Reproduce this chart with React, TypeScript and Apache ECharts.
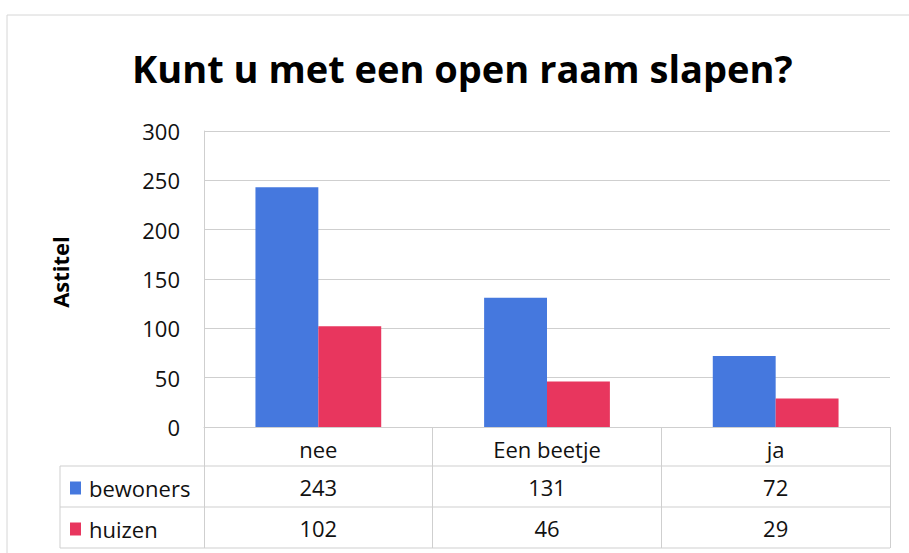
import React, { useEffect, useRef } from "react";
import * as echarts from "echarts";

const categories = ["nee", "Een beetje", "ja"];
const bewoners = [243, 131, 72];
const huizen = [102, 46, 29];
const seriesNames = ["bewoners", "huizen"];
const yTicks = { min: 0, max: 300, interval: 50 };

const BLUE = "#4578de";
const RED = "#e8365e";
const LINE = "#cfcfcf";
const FONT = "Open Sans";

const G_LEFT = 204;
const G_RIGHT = 890;
const G_TOP = 131;
const G_BOTTOM = 427;

export default function App() {
  const ref = useRef<HTMLDivElement>(null);
  useEffect(() => {
    if (!ref.current) return;
    const chart = echarts.init(ref.current, null, { renderer: "svg" });
    const baseLabel = { fontFamily: FONT, fontSize: 22, color: "#111" };
    const tableAxis = (vals: number[], offset: number) => ({
      type: "category",
      data: vals.map(String),
      position: "bottom",
      offset,
      gridIndex: 0,
      axisLine: { show: false },
      axisTick: { show: false },
      axisLabel: { ...baseLabel, margin: 11 },
      splitLine: { show: false },
    });
    const hLine = (y: number) => ({
      type: "line",
      shape: { x1: 60, y1: y, x2: G_RIGHT, y2: y },
      style: { stroke: LINE, lineWidth: 1 },
    });
    const legendBase = {
      orient: "vertical",
      left: 65,
      icon: "rect",
      itemWidth: 11,
      itemHeight: 13,
      textStyle: { ...baseLabel, padding: [0, 0, 0, 3] },
      selectedMode: false,
    };
    chart.setOption({
      animation: false,
      backgroundColor: "#fff",
      title: {
        text: "Kunt u met een open raam slapen?",
        left: 127,
        top: 44,
        textStyle: { fontFamily: FONT, fontSize: 38, fontWeight: "bold", color: "#000" },
      },
      legend: [
        { ...legendBase, data: [seriesNames[0]], top: 472 },
        { ...legendBase, data: [seriesNames[1]], top: 513 },
      ],
      grid: {
        left: G_LEFT,
        right: 909 - G_RIGHT,
        top: G_TOP,
        bottom: 553 - G_BOTTOM,
        containLabel: false,
      },
      xAxis: [
        {
          type: "category",
          data: categories,
          axisLine: { show: true, lineStyle: { color: LINE } },
          axisTick: { show: true, length: 121, lineStyle: { color: LINE } },
          axisLabel: { ...baseLabel, margin: 11 },
        },
        tableAxis(bewoners, 38),
        tableAxis(huizen, 79),
      ],
      yAxis: {
        type: "value",
        min: yTicks.min,
        max: yTicks.max,
        interval: yTicks.interval,
        name: "Astitel",
        nameLocation: "middle",
        nameGap: 133,
        nameTextStyle: { fontFamily: FONT, fontSize: 22, fontWeight: "bold", color: "#000", padding: [0, 0, 0, 14] },
        axisLine: { show: true, lineStyle: { color: LINE } },
        axisTick: { show: false },
        axisLabel: { ...baseLabel, margin: 24 },
        splitLine: { show: true, lineStyle: { color: LINE, width: 1 } },
      },
      series: [
        {
          name: seriesNames[0],
          type: "bar",
          data: bewoners,
          xAxisIndex: 0,
          itemStyle: { color: BLUE },
          barGap: "0%",
          barCategoryGap: "45%",
        },
        {
          name: seriesNames[1],
          type: "bar",
          data: huizen,
          xAxisIndex: 0,
          itemStyle: { color: RED },
          barGap: "0%",
          barCategoryGap: "45%",
        },
      ],
      graphic: [
        hLine(466),
        hLine(507),
        hLine(548),
        {
          type: "line",
          shape: { x1: 60, y1: 466, x2: 60, y2: 548 },
          style: { stroke: LINE, lineWidth: 1 },
        },
        {
          type: "line",
          shape: { x1: 7, y1: 15, x2: 909, y2: 15 },
          style: { stroke: "#d6d6d6", lineWidth: 1 },
        },
        {
          type: "line",
          shape: { x1: 7, y1: 15, x2: 7, y2: 553 },
          style: { stroke: "#d6d6d6", lineWidth: 1 },
        },
      ],
    });
    return () => chart.dispose();
  }, []);
  return (
    <div
      ref={ref}
      style={{ position: "fixed", left: 0, top: 0, width: 909, height: 553 }}
    />
  );
}
